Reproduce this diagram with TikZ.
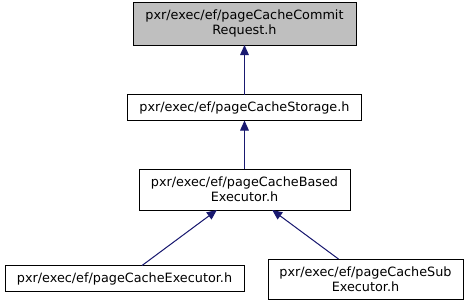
\documentclass[tikz,border=0pt]{standalone}
\usepackage{fontspec}
\setmainfont{DejaVu Sans}
\usetikzlibrary{arrows.meta}
\definecolor{edgeblue}{RGB}{25,25,112}
\definecolor{fillgray}{RGB}{191,191,191}
\begin{document}
\begin{tikzpicture}[x=0.75pt, y=-0.75pt,
    box/.style={draw=black, line width=0.75pt, fill=white, inner sep=0pt, outer sep=0pt,
        align=center, font=\fontsize{9.6}{11.2}\selectfont},
    edge/.style={-{Triangle[length=7.5pt, width=6.5pt]}, draw=edgeblue, fill=edgeblue, line width=0.75pt}]
        % frame
        \useasboundingbox (0,0) rectangle (469,305);

        % header nodes
        \node[box, fill=fillgray, minimum width=167.25pt, minimum height=32.25pt] (commit) at (244.5,23.5)
            {pxr/exec/ef/pageCacheCommit\\Request.h};
        \node[box, minimum width=175.5pt, minimum height=19.5pt] (storage) at (244.5,107.5)
            {pxr/exec/ef/pageCacheStorage.h};
        \node[box, minimum width=158.25pt, minimum height=30.75pt] (based) at (244.5,189.5)
            {pxr/exec/ef/pageCacheBased\\Executor.h};
        \node[box, minimum width=179.25pt, minimum height=19.5pt] (executor) at (124.5,278.5)
            {pxr/exec/ef/pageCacheExecutor.h};
        \node[box, minimum width=146.25pt, minimum height=30pt] (sub) at (365.5,279)
            {pxr/exec/ef/pageCacheSub\\Executor.h};

        % include edges
        \draw[edge] (storage) -- (commit);
        \draw[edge] (based) -- (storage);
        \draw[edge] (executor) -- (based);
        \draw[edge] (sub) -- (based);

    \end{tikzpicture}
\end{document}
